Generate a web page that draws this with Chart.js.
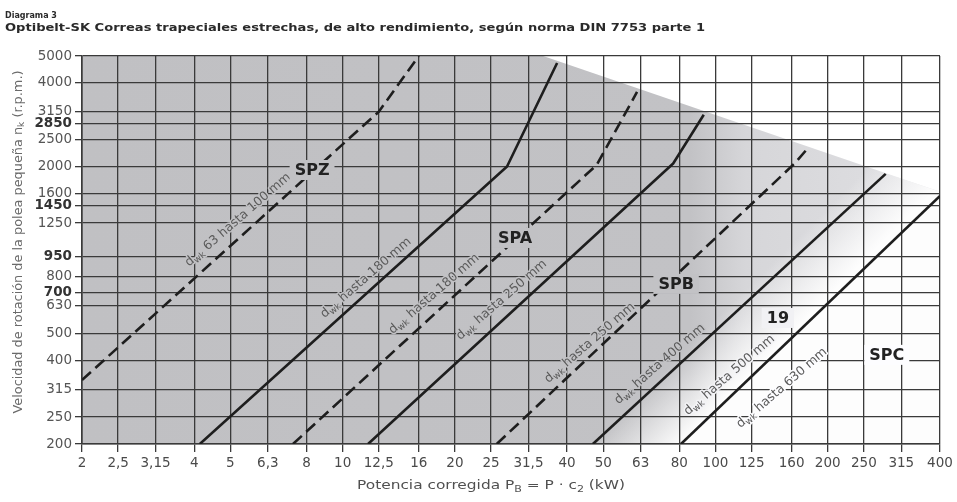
<!DOCTYPE html>
<html><head><meta charset="utf-8">
<script src="https://cdn.jsdelivr.net/npm/chart.js@4/dist/chart.umd.min.js"></script>
<style>html,body{margin:0;padding:0;background:#fff;}canvas{display:block;}</style>
</head><body>
<canvas id="c" width="957" height="502"></canvas>
<script>
// ---- tick values / labels ----
const xTicks = [2,2.5,3.15,4,5,6.3,8,10,12.5,16,20,25,31.5,40,50,63,80,100,125,160,200,250,315,400];
const xTickLabels = ['2','2,5','3,15','4','5','6,3','8','10','12,5','16','20','25','31,5','40','50','63','80','100','125','160','200','250','315','400'];
const yTicks = [200,250,315,400,500,630,700,800,950,1250,1450,1600,2000,2500,2850,3150,4000,5000];
const yTickLabels = ['200','250','315','400','500','630','700','800','950','1250','1450','1600','2000','2500','2850','3150','4000','5000'];
const yBoldTicks = [700,950,1450,2850];

// ---- series (power kW, rpm) ----
const spzX = [2, 12.5, 16];        const spzY = [340, 3150, 5000];      // SPZ dwk 63-100 (dashed)
const spa180X = [4.14, 27.6, 37.6]; const spa180Y = [200, 2000, 4720];  // SPA hasta 180 (solid)
const spa180dX = [7.36, 48, 61.6];  const spa180dY = [200, 2025, 3710]; // SPA hasta 180 (dashed)
const spa250X = [11.7, 77, 93];     const spa250Y = [200, 2050, 3070];  // SPA hasta 250
const spb250X = [25.9, 163, 177];   const spb250Y = [200, 2050, 2330];  // SPB hasta 250 (dashed)
const spb400X = [46.9, 286];        const spb400Y = [200, 1880];        // SPB hasta 400
const spcX = [80.8, 400];           const spcY = [200, 1566];           // SPC
const shadeX = [2, 34.5, 400];      const shadeY = [5000, 5000, 1623];  // shaded area boundary

// ---- annotations ----
const rotLabelNum = ['63 hasta 100 mm','hasta 180 mm','hasta 180 mm','hasta 250 mm','hasta 250 mm','hasta 400 mm','hasta 500 mm','hasta 630 mm'];
const rotLabelX = [5.24, 11.55, 17.6, 26.7, 46, 70.9, 109, 150.7];
const rotLabelY = [1283, 793, 694, 660, 462, 388, 354, 318];
const bigLabels = ['SPZ','SPA','SPB','19','SPC'];
const bigLabelX = [8.28, 29, 78.4, 147, 288];
const bigLabelY = [1942, 1105, 755, 569, 419];

const pts = (xs, ys) => xs.map((x, i) => ({x, y: ys[i]}));
const FONT = '"DejaVu Sans", "Liberation Sans", Arial, sans-serif';
const INK = '#1e1e1e';
const GRID = '#3a3a3a';

// shading: horizontal grey gradient + diagonal white overlay
const hStops = [[82, 192], [690, 194], [745, 214], [940, 224]];
const dS0 = 1035, dS1 = 1125; // x+y where white overlay starts / completes
function greyAtX(x) {
  if (x <= hStops[0][0]) return hStops[0][1];
  for (let i = 1; i < hStops.length; i++) {
    if (x <= hStops[i][0]) {
      const t = (x - hStops[i-1][0]) / (hStops[i][0] - hStops[i-1][0]);
      return hStops[i-1][1] + t * (hStops[i][1] - hStops[i-1][1]);
    }
  }
  return hStops[hStops.length-1][1];
}
function shadeAt(px, py) {
  const g = greyAtX(px);
  let t = (px + py - dS0) / (dS1 - dS0);
  t = Math.max(0, Math.min(1, t));
  const v = Math.round(g + (253 - g) * t);
  return `rgb(${v},${v},${Math.min(255, v + 3)})`;
}
let gradA = null, gradB = null;
function getGradA(ctx) {
  if (!gradA) {
    gradA = ctx.createLinearGradient(82, 0, 940, 0);
    hStops.forEach(s => {
      const v = s[1];
      gradA.addColorStop((s[0] - 82) / 858, `rgb(${v},${v},${v + 3})`);
    });
  }
  return gradA;
}
function getGradB(ctx) {
  if (!gradB) {
    gradB = ctx.createLinearGradient(dS0 / 2, dS0 / 2, dS1 / 2, dS1 / 2);
    gradB.addColorStop(0, 'rgba(253,253,253,0)');
    gradB.addColorStop(1, 'rgba(253,253,253,1)');
  }
  return gradB;
}

function line(xs, ys, dashed) {
  return {
    data: pts(xs, ys), showLine: true, borderColor: INK, borderWidth: 2.6,
    borderDash: dashed ? [12, 6] : [], pointRadius: 0, fill: false, tension: 0,
    borderCapStyle: 'butt', borderJoinStyle: 'round'
  };
}

function richWidth(ctx, parts, size) {
  return parts.reduce((a, p) => {
    ctx.font = ctx._base.replace('{S}', p[1] ? Math.round(size * 0.68) : size);
    return a + ctx.measureText(p[0]).width;
  }, 0);
}
function drawRich(ctx, parts, x, y, size, targetW) {
  const total = richWidth(ctx, parts, size);
  const sx = targetW ? targetW / total : 1;
  ctx.save();
  ctx.translate(x, y);
  ctx.scale(sx, 1);
  let cx = -total / 2;
  parts.forEach(p => {
    ctx.font = ctx._base.replace('{S}', p[1] ? Math.round(size * 0.68) : size);
    const dy = p[1] ? size * 0.28 : 0;
    if (ctx._halo) ctx.strokeText(p[0], cx, dy);
    ctx.fillText(p[0], cx, dy);
    cx += ctx.measureText(p[0]).width;
  });
  ctx.restore();
}

const textPlugin = {
  id: 'texts',
  afterDraw(chart) {
    const ctx = chart.ctx;
    const xs = chart.scales.x, ys = chart.scales.y;
    ctx.save();
    ctx.textBaseline = 'middle';
    ctx.textAlign = 'left';
    ctx._base = '{S}px ' + FONT;
    // rotated diameter labels
    rotLabelNum.forEach((t, i) => {
      const px = xs.getPixelForValue(rotLabelX[i]);
      const py = ys.getPixelForValue(rotLabelY[i]);
      ctx.save();
      ctx.translate(px, py);
      ctx.rotate(-41 * Math.PI / 180);
      ctx._halo = true;
      ctx.strokeStyle = shadeAt(px, py);
      ctx.lineWidth = 3;
      ctx.lineJoin = 'round';
      ctx.fillStyle = '#5a5a5a';
      drawRich(ctx, [['d', false], ['wk', true], [' ' + t, false]], 0, 0, 12.5, 0);
      ctx._halo = false;
      ctx.restore();
    });
    // big labels with background boxes
    ctx.font = 'bold 16px ' + FONT;
    ctx.textAlign = 'center';
    bigLabels.forEach((t, i) => {
      const px = xs.getPixelForValue(bigLabelX[i]);
      const py = ys.getPixelForValue(bigLabelY[i]);
      const w = ctx.measureText(t).width;
      ctx.fillStyle = shadeAt(px, py);
      ctx.fillRect(px - w / 2 - 5, py - 10, w + 10, 20);
      ctx.fillStyle = '#222';
      ctx.fillText(t, px, py + 1);
    });
    ctx.textAlign = 'left';
    // titles
    ctx.fillStyle = '#2a2a2a';
    ctx.textBaseline = 'alphabetic';
    ctx.font = 'bold 8px ' + FONT;
    ctx.fillText('Diagrama 3', 5, 18);
    ctx.font = 'bold 11px ' + FONT;
    const title = 'Optibelt-SK Correas trapeciales estrechas, de alto rendimiento, según norma DIN 7753 parte 1';
    const tw = ctx.measureText(title).width;
    ctx.save();
    ctx.translate(5, 31);
    ctx.scale(700 / tw, 1);
    ctx.fillText(title, 0, 0);
    ctx.restore();
    // x axis title
    ctx.textBaseline = 'middle';
    ctx.fillStyle = '#505050';
    drawRich(ctx, [['Potencia corregida P', false], ['B', true], [' = P · c', false], ['2', true], [' (kW)', false]], 491, 486, 12.5, 268);
    // y axis title
    ctx.save();
    ctx.translate(19, 242);
    ctx.rotate(-Math.PI / 2);
    ctx.fillStyle = '#6a6a6a';
    drawRich(ctx, [['Velocidad de rotación de la polea pequeña n', false], ['k', true], [' (r.p.m.)', false]], 0, 0, 11.5, 343);
    ctx.restore();
    ctx.restore();
  }
};

const chart = new Chart(document.getElementById('c'), {
  type: 'scatter',
  data: {
    datasets: [
      line(spzX, spzY, true),
      line(spa180X, spa180Y, false),
      line(spa180dX, spa180dY, true),
      line(spa250X, spa250Y, false),
      line(spb250X, spb250Y, true),
      line(spb400X, spb400Y, false),
      line(spcX, spcY, false),
      {
        data: pts(shadeX, shadeY), showLine: true, borderWidth: 0, pointRadius: 0,
        fill: 'start', backgroundColor: (c) => getGradB(c.chart.ctx)
      },
      {
        data: pts(shadeX, shadeY), showLine: true, borderWidth: 0, pointRadius: 0,
        fill: 'start', backgroundColor: (c) => getGradA(c.chart.ctx)
      }
    ]
  },
  options: {
    responsive: false, animation: false, devicePixelRatio: 1,
    layout: { padding: { top: 56, right: 17, left: 0, bottom: 0 } },
    plugins: { legend: { display: false }, tooltip: { enabled: false }, filler: { drawTime: 'beforeDraw' } },
    scales: {
      x: {
        type: 'logarithmic', min: 2, max: 400,
        afterBuildTicks: s => { s.ticks = xTicks.map(v => ({ value: v })); },
        afterFit: s => { s.height = 58; },
        ticks: {
          autoSkip: false, maxRotation: 0, minRotation: 0, padding: 3, color: '#4a4a4a',
          font: { family: FONT, size: 13.5 },
          callback: (v, i) => xTickLabels[i]
        },
        grid: { color: GRID, lineWidth: 1.3, tickLength: 8, drawTicks: true, tickColor: GRID },
        border: { display: true, color: GRID, width: 1.6 }
      },
      y: {
        type: 'logarithmic', min: 200, max: 5000,
        afterBuildTicks: s => { s.ticks = yTicks.map(v => ({ value: v })); },
        afterFit: s => { s.width = 82; },
        ticks: {
          autoSkip: false, padding: 3, color: (c) => yBoldTicks.includes(c.tick && c.tick.value) ? '#333' : '#555',
          font: (c) => ({ family: FONT, size: 13.5, weight: yBoldTicks.includes(c.tick && c.tick.value) ? 'bold' : 'normal' }),
          callback: (v, i) => yTickLabels[i]
        },
        grid: { color: GRID, lineWidth: 1.3, tickLength: 7, drawTicks: true, tickColor: GRID },
        border: { display: true, color: GRID, width: 1.6 }
      }
    }
  },
  plugins: [textPlugin]
});
</script>
</body></html>
